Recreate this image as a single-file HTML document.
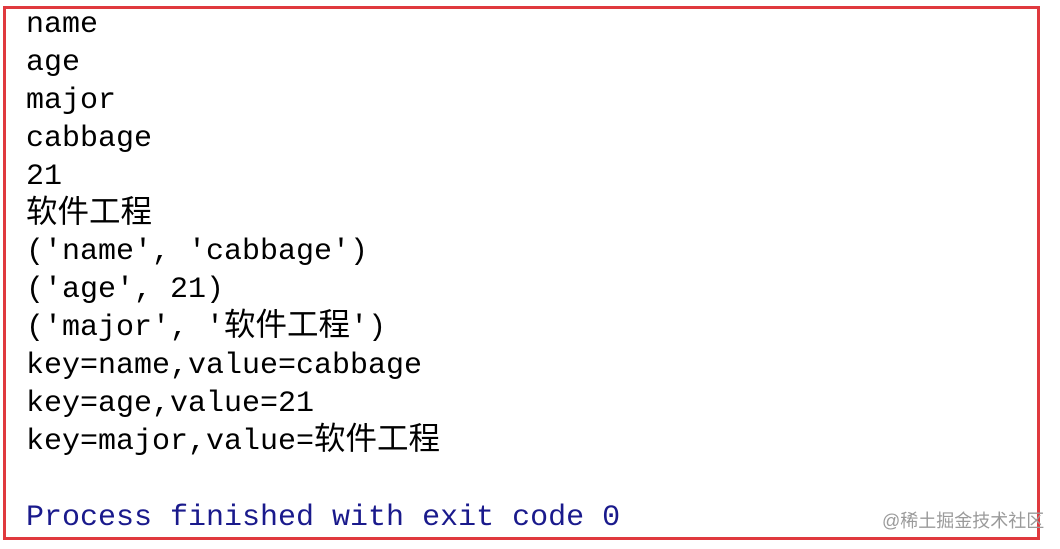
<!DOCTYPE html>
<html><head><meta charset="utf-8"><style>
html,body{margin:0;padding:0;background:#fff;}
body{width:1060px;height:549px;position:relative;overflow:hidden;}
.box{position:absolute;left:3px;top:6px;width:1031px;height:528px;border:3px solid #e0393e;}
pre{position:absolute;left:26px;top:7px;margin:0;font-family:"Liberation Mono","Noto Sans CJK SC",monospace;font-size:30px;line-height:37.9px;color:#000;}
.c{font-size:31.5px;line-height:0;}
.blue{color:#1a1a8c;}
.wm{position:absolute;left:882px;top:507px;font-family:"Liberation Sans","Noto Sans CJK SC",sans-serif;font-size:18px;color:#9a9a9a;white-space:nowrap;}
</style></head><body>
<div class="box"></div>
<pre>name
age
major
cabbage
21
<span class="c">软件工程</span>
('name', 'cabbage')
('age', 21)
('major', '<span class="c">软件工程</span>')
key=name,value=cabbage
key=age,value=21
key=major,value=<span class="c">软件工程</span>

<span class="blue">Process finished with exit code 0</span></pre>
<div class="wm">@稀土掘金技术社区</div>
</body></html>
